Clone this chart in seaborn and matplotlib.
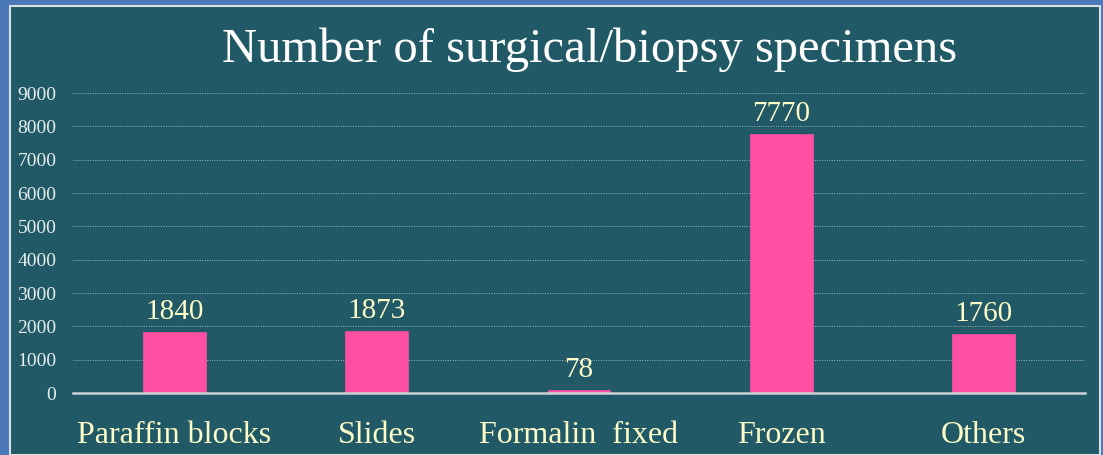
import matplotlib
matplotlib.use("Agg")
import matplotlib.pyplot as plt
import seaborn as sns
from matplotlib.patches import Rectangle

# Data
categories = ["Paraffin blocks", "Slides", "Formalin  fixed", "Frozen", "Others"]
counts = [1840, 1873, 78, 7770, 1760]
yticks = [0, 1000, 2000, 3000, 4000, 5000, 6000, 7000, 8000, 9000]

outer = "#4a78b8"
panel = "#215a66"
pink = "#ff4fa3"
cream = "#fdfbc8"

sns.set_theme(style="white")
plt.rcParams["font.family"] = ["Liberation Serif", "DejaVu Serif"]

W, H = 1103, 455
fig = plt.figure(figsize=(W / 100, H / 100), dpi=100, facecolor=outer)

# dark panel with light border
fig.patches.append(Rectangle((10 / W, 0), (1100 - 10) / W, (H - 6) / H,
                             transform=fig.transFigure, facecolor=panel,
                             edgecolor="#d8e0e4", linewidth=1.5, zorder=-10))

ax = fig.add_axes([73 / W, (H - 393) / H, 1012 / W, 300 / H])
ax.set_facecolor("none")

sns.barplot(x=categories, y=counts, color=pink, width=0.31, saturation=1,
            edgecolor=pink, linewidth=0.5, ax=ax, zorder=3)

ax.set_xlim(-0.5, len(categories) - 0.5)
ax.set_ylim(0, 9000)
ax.set_yticks(yticks)
ax.set_yticklabels([str(t) for t in yticks], fontsize=14, color="#e6eeee")
ax.tick_params(axis="y", length=0, pad=12)
ax.tick_params(axis="x", length=0, pad=20, labelsize=23, labelcolor=cream)

for t in yticks[1:]:
    ax.axhline(t, color="#9fb5ba", linewidth=0.7, linestyle=(0, (1, 1.5)), zorder=1)

for s in ["top", "right", "left"]:
    ax.spines[s].set_visible(False)
ax.spines["bottom"].set_color("#c9d3d6")
ax.spines["bottom"].set_linewidth(1.8)
ax.spines["bottom"].set_zorder(4)

for i, v in enumerate(counts):
    ax.annotate(str(v), (i, v), xytext=(0, 5), textcoords="offset points",
                ha="center", va="bottom", fontsize=21, color=cream)

ax.set_xlabel("")
ax.set_ylabel("")
fig.text(590 / W, 1 - 50 / H, "Number of surgical/biopsy specimens",
         ha="center", va="center", fontsize=35, color="white")

fig.savefig("out.png", dpi=100, facecolor=outer)
